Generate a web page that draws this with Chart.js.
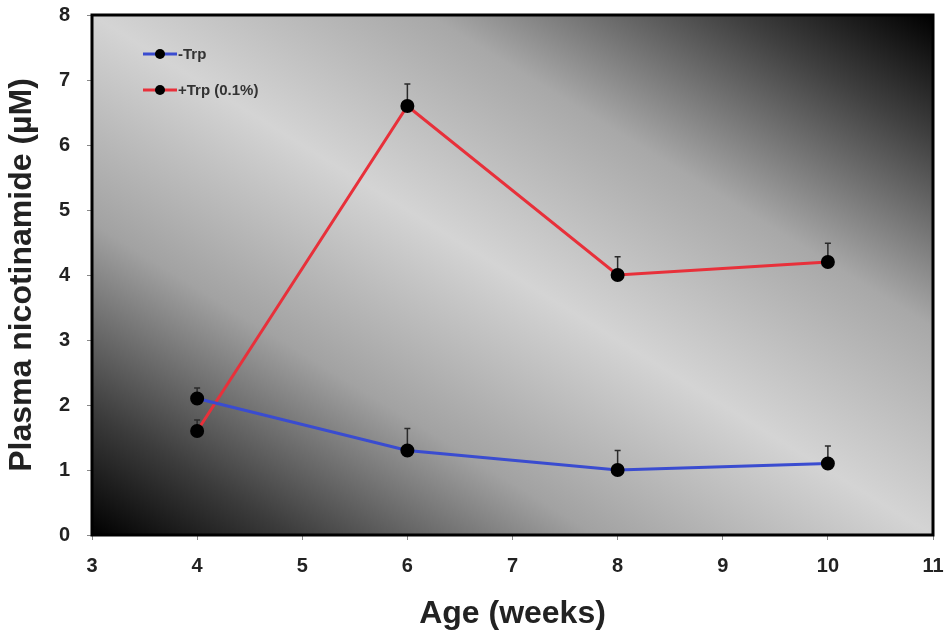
<!DOCTYPE html>
<html>
<head>
<meta charset="utf-8">
<script src="https://cdn.jsdelivr.net/npm/chart.js@4"></script>
<style>
  html, body { margin: 0; padding: 0; background: #fff; }
  #wrap { width: 944px; height: 637px; }
</style>
</head>
<body>
<div id="wrap"><canvas id="chart" width="944" height="637"></canvas></div>
<script>
// ages in weeks
const ages = [4, 6, 8, 10];

// plasma nicotinamide (uM), mean and upper error
const minusTrp = [2.1, 1.3, 1.0, 1.1];
const minusTrpErr = [0.16, 0.34, 0.3, 0.27];
const plusTrp = [1.6, 6.6, 4.0, 4.2];
const plusTrpErr = [0.17, 0.34, 0.28, 0.29];

const seriesLabels = ['-Trp', '+Trp (0.1%)'];
const seriesColors = ['#3a4cd0', '#e8303a'];

const xTicks = [3, 4, 5, 6, 7, 8, 9, 10, 11];
const yTicks = [0, 1, 2, 3, 4, 5, 6, 7, 8];

const FONT = 'Liberation Sans, Arial, sans-serif';

function toPoints(vals) {
  return ages.map((a, i) => ({ x: a, y: vals[i] }));
}

// gradient background + frame
const backdrop = {
  id: 'backdrop',
  beforeDatasetsDraw(chart) {
    const { ctx, chartArea: a } = chart;
    const w = a.right - a.left, h = a.bottom - a.top;
    const cx = a.left + w / 2, cy = a.top + h / 2;
    const k = w * h / (w * w + h * h);
    const g = ctx.createLinearGradient(cx - k * h, cy + k * w, cx + k * h, cy - k * w);
    g.addColorStop(0, '#000000');
    g.addColorStop(0.12, '#3c3c3c');
    g.addColorStop(0.3, '#a2a2a2');
    g.addColorStop(0.5, '#d4d4d4');
    g.addColorStop(0.7, '#a8a8a8');
    g.addColorStop(0.88, '#404040');
    g.addColorStop(1, '#000000');
    ctx.save();
    ctx.fillStyle = g;
    ctx.fillRect(a.left, a.top, w, h);
    ctx.restore();
  },
  afterDraw(chart) {
    const { ctx, chartArea: a } = chart;
    ctx.save();
    ctx.strokeStyle = '#000';
    ctx.lineWidth = 3;
    ctx.strokeRect(a.left, a.top, a.right - a.left, a.bottom - a.top);
    ctx.restore();
  }
};

// upward error bars
const errorBars = {
  id: 'errorBars',
  beforeDatasetsDraw(chart) {
    const { ctx, scales: { x, y } } = chart;
    const errs = [minusTrpErr, plusTrpErr];
    const vals = [minusTrp, plusTrp];
    ctx.save();
    ctx.strokeStyle = '#2a2a2a';
    ctx.lineWidth = 1.5;
    errs.forEach((e, s) => {
      ages.forEach((a, i) => {
        const px = x.getPixelForValue(a);
        const y0 = y.getPixelForValue(vals[s][i]);
        const y1 = y.getPixelForValue(vals[s][i] + e[i]);
        ctx.beginPath();
        ctx.moveTo(px, y0);
        ctx.lineTo(px, y1);
        ctx.moveTo(px - 3, y1);
        ctx.lineTo(px + 3, y1);
        ctx.stroke();
      });
    });
    ctx.restore();
  }
};

// legend inside the plot
const innerLegend = {
  id: 'innerLegend',
  afterDraw(chart) {
    const { ctx, chartArea: a } = chart;
    ctx.save();
    seriesLabels.forEach((lab, i) => {
      const yy = a.top + 39 + i * 36;
      const x0 = a.left + 51;
      ctx.strokeStyle = seriesColors[i];
      ctx.lineWidth = 3;
      ctx.beginPath();
      ctx.moveTo(x0, yy);
      ctx.lineTo(x0 + 34, yy);
      ctx.stroke();
      ctx.fillStyle = '#000';
      ctx.beginPath();
      ctx.arc(x0 + 17, yy, 5, 0, Math.PI * 2);
      ctx.fill();
      ctx.fillStyle = '#333';
      ctx.font = 'bold 15px ' + FONT;
      ctx.textBaseline = 'middle';
      ctx.fillText(lab, x0 + 35, yy + 1);
    });
    ctx.restore();
  }
};

const chart = new Chart(document.getElementById('chart'), {
  type: 'line',
  data: {
    datasets: [
      {
        label: seriesLabels[0],
        data: toPoints(minusTrp),
        borderColor: seriesColors[0],
        borderWidth: 3,
        pointBackgroundColor: '#000',
        pointBorderColor: '#000',
        pointRadius: 5.5,
        tension: 0
      },
      {
        label: seriesLabels[1],
        data: toPoints(plusTrp),
        borderColor: seriesColors[1],
        borderWidth: 3,
        pointBackgroundColor: '#000',
        pointBorderColor: '#000',
        pointRadius: 5.5,
        tension: 0
      }
    ]
  },
  options: {
    responsive: false,
    animation: false,
    layout: { padding: { top: 15, right: 11, left: 0, bottom: 0 } },
    plugins: { legend: { display: false }, tooltip: { enabled: false } },
    scales: {
      x: {
        type: 'linear',
        min: 3,
        max: 11,
        afterBuildTicks(s) { s.ticks = xTicks.map(v => ({ value: v })); },
        afterFit(s) { s.height = 102; s.paddingLeft = 0; s.paddingRight = 0; },
        grid: { drawOnChartArea: false, tickLength: 5, color: '#888' },
        border: { display: false },
        ticks: { color: '#222', padding: 14, maxRotation: 0, font: { family: FONT, size: 20, weight: 'bold' } },
        title: { display: true, text: 'Age (weeks)', color: '#222', padding: { top: 0, bottom: 4 }, font: { family: FONT, size: 32, weight: 'bold' } }
      },
      y: {
        min: 0,
        max: 8,
        afterBuildTicks(s) { s.ticks = yTicks.map(v => ({ value: v })); },
        afterFit(s) { s.width = 92; s.paddingTop = 0; s.paddingBottom = 0; },
        grid: { drawOnChartArea: false, tickLength: 5, color: '#888' },
        border: { display: false },
        ticks: { color: '#222', padding: 17, font: { family: FONT, size: 20, weight: 'bold' } },
        title: { display: true, text: 'Plasma nicotinamide (µM)', color: '#222', padding: { top: 3, bottom: 0 }, font: { family: FONT, size: 32, weight: 'bold' } }
      }
    }
  },
  plugins: [backdrop, errorBars, innerLegend]
});
</script>
</body>
</html>
